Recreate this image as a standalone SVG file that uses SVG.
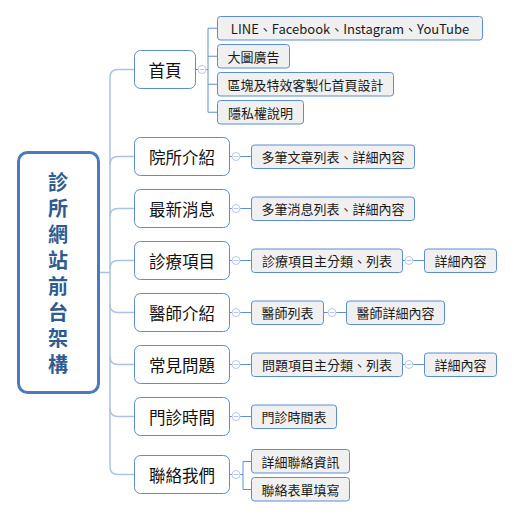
<svg xmlns="http://www.w3.org/2000/svg" width="514" height="518" viewBox="0 0 514 518">
<style>
text{font-family:"Noto Sans CJK TC","Noto Sans",sans-serif;dominant-baseline:central;text-anchor:middle}
.root rect{fill:#fff;stroke:#4a7bbf;stroke-width:3}
.root text{font-size:20px;font-weight:bold;fill:#2f5b90;writing-mode:vertical-rl;text-anchor:start;letter-spacing:6px}
.main rect{fill:#fff;stroke:#5b8cd4;stroke-width:1}
.main text{font-size:16.5px;fill:#111}
.sub rect{fill:#f0f0f0;stroke:#5b8cd4;stroke-width:1}
.sub text{font-size:13px;fill:#1a1a1a}
.trunk path{fill:none;stroke:#a9c3e6;stroke-width:1.5}
.conn path{fill:none;stroke:#5f8fd3;stroke-width:1}
.tog circle{fill:#fff;stroke:#bac7ec;stroke-width:1}
.tog path{stroke:#bac7ec;stroke-width:1}
</style>
<rect width="514" height="518" fill="#fff"/>
<g id="connectors">
<g class="trunk">
<path d="M100,272.5H110V77.5Q110,69.5 118,69.5H134"/>
<path d="M110,164.5Q110,156.5 118,156.5H134"/>
<path d="M110,216.5Q110,208.5 118,208.5H134"/>
<path d="M110,268.5Q110,260.5 118,260.5H134"/>
<path d="M110,272.5V466.5Q110,474.5 118,474.5H134"/>
<path d="M110,304.5Q110,312.5 118,312.5H134"/>
<path d="M110,356.5Q110,364.5 118,364.5H134"/>
<path d="M110,408.5Q110,416.5 118,416.5H134"/>
</g>
<g class="conn">
<path d="M195,69.5H208M208,28.25V112.25M208,28.25H217M208,56.25H217M208,84.25H217M208,112.25H217"/>
<path d="M229,156.5H251"/>
<path d="M229,208.5H251"/>
<path d="M229,260.5H251M403,260.5H424"/>
<path d="M229,312.5H251M324,312.5H346"/>
<path d="M229,364.5H251M403,364.5H424"/>
<path d="M229,416.5H251"/>
<path d="M229,474.5H243M243,461.5V489.5M243,461.5H251M243,489.5H251"/>
</g>
<g class="tog">
<circle cx="202" cy="69.5" r="4"/><path d="M199.5,69.5H204.5"/>
<circle cx="236" cy="156.5" r="4"/><path d="M233.5,156.5H238.5"/>
<circle cx="236" cy="208.5" r="4"/><path d="M233.5,208.5H238.5"/>
<circle cx="236" cy="260.5" r="4"/><path d="M233.5,260.5H238.5"/>
<circle cx="409" cy="260.5" r="4"/><path d="M406.5,260.5H411.5"/>
<circle cx="236" cy="312.5" r="4"/><path d="M233.5,312.5H238.5"/>
<circle cx="332" cy="312.5" r="4"/><path d="M329.5,312.5H334.5"/>
<circle cx="236" cy="364.5" r="4"/><path d="M233.5,364.5H238.5"/>
<circle cx="409" cy="364.5" r="4"/><path d="M406.5,364.5H411.5"/>
<circle cx="236" cy="416.5" r="4"/><path d="M233.5,416.5H238.5"/>
<circle cx="236" cy="474.5" r="4"/><path d="M233.5,474.5H238.5"/>
</g>
</g>
<g id="root" class="root">
<rect x="18.5" y="152.5" width="80" height="240" rx="9"/>
<text x="58" y="172">診所網站前台架構</text>
</g>
<g id="n-home" class="main"><rect x="134.5" y="50.5" width="61" height="38" rx="6"/><text x="165" y="69.5">首頁</text></g>
<g id="n-about" class="main"><rect x="134.5" y="137.5" width="95" height="38" rx="6"/><text x="182" y="156.5">院所介紹</text></g>
<g id="n-news" class="main"><rect x="134.5" y="189.5" width="95" height="38" rx="6"/><text x="182" y="208.5">最新消息</text></g>
<g id="n-service" class="main"><rect x="134.5" y="241.5" width="95" height="38" rx="6"/><text x="182" y="260.5">診療項目</text></g>
<g id="n-doctor" class="main"><rect x="134.5" y="293.5" width="95" height="38" rx="6"/><text x="182" y="312.5">醫師介紹</text></g>
<g id="n-faq" class="main"><rect x="134.5" y="345.5" width="95" height="38" rx="6"/><text x="182" y="364.5">常見問題</text></g>
<g id="n-hours" class="main"><rect x="134.5" y="397.5" width="95" height="38" rx="6"/><text x="182" y="416.5">門診時間</text></g>
<g id="n-contact" class="main"><rect x="134.5" y="455.5" width="95" height="38" rx="6"/><text x="182" y="474.5">聯絡我們</text></g>
<g id="s-social" class="sub"><rect x="217.5" y="16.5" width="265" height="23.5" rx="3"/><text x="350" y="28.25">LINE、Facebook、Instagram、YouTube</text></g>
<g id="s-banner" class="sub"><rect x="217.5" y="44.5" width="72" height="23.5" rx="3"/><text x="253.5" y="56.25">大圖廣告</text></g>
<g id="s-block" class="sub"><rect x="217.5" y="72.5" width="176" height="23.5" rx="3"/><text x="305.5" y="84.25">區塊及特效客製化首頁設計</text></g>
<g id="s-privacy" class="sub"><rect x="217.5" y="100.5" width="86" height="23.5" rx="3"/><text x="260.5" y="112.25">隱私權說明</text></g>
<g id="s-about" class="sub"><rect x="251.5" y="145" width="163" height="23.5" rx="3"/><text x="333" y="156.75">多筆文章列表、詳細內容</text></g>
<g id="s-news" class="sub"><rect x="251.5" y="197" width="163" height="23.5" rx="3"/><text x="333" y="208.75">多筆消息列表、詳細內容</text></g>
<g id="s-service" class="sub"><rect x="251.5" y="249" width="151" height="23.5" rx="3"/><text x="327" y="260.75">診療項目主分類、列表</text></g>
<g id="s-service-detail" class="sub"><rect x="424.5" y="249" width="72" height="23.5" rx="3"/><text x="460.5" y="260.75">詳細內容</text></g>
<g id="s-doctor" class="sub"><rect x="251.5" y="301" width="72" height="23.5" rx="3"/><text x="287.5" y="312.75">醫師列表</text></g>
<g id="s-doctor-detail" class="sub"><rect x="346.5" y="301" width="98" height="23.5" rx="3"/><text x="395.5" y="312.75">醫師詳細內容</text></g>
<g id="s-faq" class="sub"><rect x="251.5" y="353" width="151" height="23.5" rx="3"/><text x="327" y="364.75">問題項目主分類、列表</text></g>
<g id="s-faq-detail" class="sub"><rect x="424.5" y="353" width="72" height="23.5" rx="3"/><text x="460.5" y="364.75">詳細內容</text></g>
<g id="s-hours" class="sub"><rect x="251.5" y="405" width="85" height="23.5" rx="3"/><text x="294" y="416.75">門診時間表</text></g>
<g id="s-contact-info" class="sub"><rect x="251.5" y="449.5" width="98" height="23.5" rx="3"/><text x="300.5" y="461.25">詳細聯絡資訊</text></g>
<g id="s-contact-form" class="sub"><rect x="251.5" y="477.5" width="98" height="23.5" rx="3"/><text x="300.5" y="489.25">聯絡表單填寫</text></g>
</svg>
